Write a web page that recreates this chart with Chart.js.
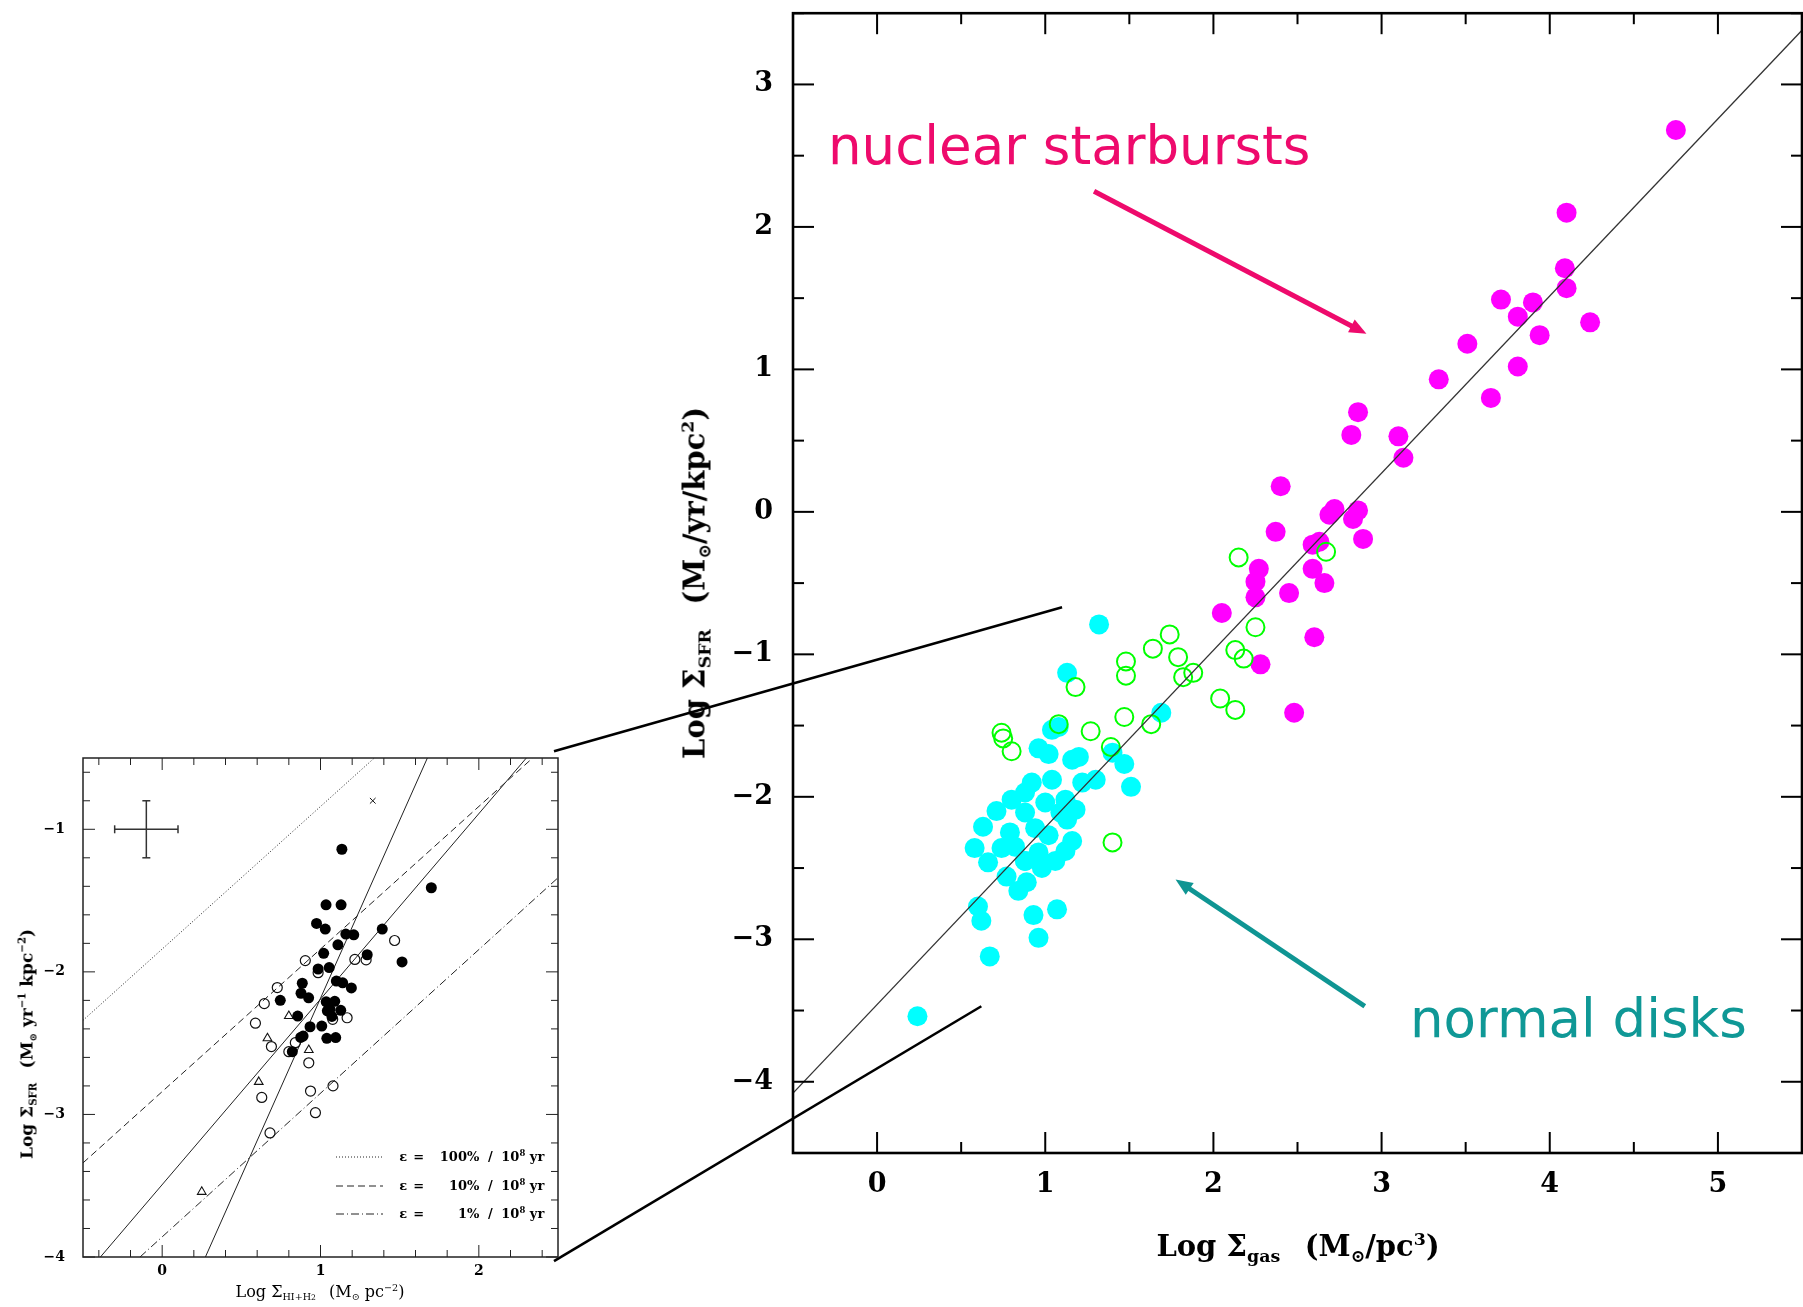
<!DOCTYPE html>
<html>
<head>
<meta charset="utf-8">
<script src="https://cdn.jsdelivr.net/npm/chart.js@4.4.1/dist/chart.umd.min.js"></script>
<style>
  html,body{margin:0;padding:0;background:#fff;}
  body{width:1803px;height:1307px;position:relative;overflow:hidden;}
  canvas{position:absolute;}
  .t{position:absolute;white-space:nowrap;line-height:1;}
  .serif{font-family:"DejaVu Serif","Liberation Serif",serif;color:#000;}
  .sub{font-size:60%;position:relative;top:0.35em;}
  .sup{font-size:60%;position:relative;top:-0.65em;}
  .ann{font-family:"DejaVu Sans",sans-serif;font-size:53px;}
  .leg{position:absolute;font-family:"DejaVu Serif",serif;font-weight:bold;font-size:13px;line-height:1;white-space:nowrap;}
  .leg span{display:inline-block;}
</style>
</head>
<body>
<canvas id="main" width="1803" height="1307" style="left:0;top:0;"></canvas>
<canvas id="inset" width="600" height="607" style="left:0;top:700px;"></canvas>

<div class="t ann" style="left:828px;top:119px;color:#ee0a6c;">nuclear starbursts</div>
<div class="t ann" style="left:1410px;top:992px;color:#0f9896;">normal disks</div>

<div class="t serif" style="left:1298px;top:1232px;transform:translateX(-50%);font-size:29px;font-weight:bold;">Log Σ<span class="sub">gas</span>&ensp;&nbsp;(M<span class="sub">⊙</span>/pc<span class="sup">3</span>)</div>
<div class="t serif" style="left:695px;top:583px;transform:translate(-50%,-50%) rotate(-90deg);font-size:29px;font-weight:bold;">Log Σ<span class="sub">SFR</span>&ensp;&nbsp;(M<span class="sub">⊙</span>/yr/kpc<span class="sup">2</span>)</div>

<div class="t serif" style="left:320px;top:1284px;transform:translateX(-50%);font-size:16px;">Log Σ<span class="sub">HI+H<span style="font-size:80%">2</span></span>&ensp;&nbsp;(M<span class="sub">⊙</span> pc<span class="sup">−2</span>)</div>
<div class="t serif" style="left:27px;top:1044px;transform:translate(-50%,-50%) rotate(-90deg);font-size:17px;font-weight:bold;">Log Σ<span class="sub">SFR</span>&ensp;&nbsp;(M<span class="sub">⊙</span> yr<span class="sup">−1</span> kpc<span class="sup">−2</span>)</div>

<div id="legend"></div>

<script>
// ---------------- MAIN PANEL DATA ----------------
const mainXTicks = [0, 1, 2, 3, 4, 5];
const mainYTicks = [-4, -3, -2, -1, 0, 1, 2, 3];

// nuclear starbursts (magenta, filled)
const sbGas = [4.75, 4.10, 4.09, 4.10, 3.71, 3.90, 3.81, 4.24, 3.94, 3.51, 3.81, 3.34, 3.65, 2.86, 2.82, 3.10, 3.13,
               2.72, 2.86, 2.40, 2.83, 2.37, 2.89, 2.59, 2.63, 2.59, 2.66, 2.27, 2.25, 2.25, 2.45, 2.05, 2.60, 2.28, 2.48, 2.69];
const sbSfr = [2.68, 2.10, 1.71, 1.57, 1.49, 1.47, 1.37, 1.33, 1.24, 1.18, 1.02, 0.93, 0.80, 0.70, 0.54, 0.53, 0.38,
               0.02, 0.01, 0.18, -0.05, -0.14, -0.19, -0.23, -0.21, -0.40, -0.50, -0.40, -0.49, -0.60, -0.57, -0.71, -0.88, -1.07, -1.41, -0.02];

// normal disks (cyan, filled)
const ndGas = [1.32, 1.13, 1.08, 1.69, 1.04, 0.96, 1.02, 1.16, 1.20, 1.40, 1.47, 1.51, 0.88, 0.92, 1.04, 1.30, 1.22,
               1.00, 1.09, 1.18, 0.88, 0.71, 0.63, 0.94, 0.88, 1.02, 0.82, 0.58, 1.16, 0.96, 0.66, 0.88, 1.06, 0.77,
               0.89, 0.60, 0.62, 0.93, 1.07, 0.96, 0.67, 0.24, 0.79, 1.12, 0.80, 0.74, 1.12, 0.98, 1.13, 0.84];
const ndSfr = [-0.79, -1.13, -1.51, -1.41, -1.53, -1.66, -1.70, -1.74, -1.72, -1.69, -1.77, -1.93, -1.97, -1.90, -1.88, -1.88, -1.90,
               -2.04, -2.11, -2.09, -2.11, -2.10, -2.21, -2.22, -2.45, -2.27, -2.35, -2.36, -2.31, -2.39, -2.46, -2.45, -2.45, -2.56,
               -2.60, -2.77, -2.87, -2.83, -2.79, -2.99, -3.12, -3.54, -2.25, -2.02, -2.02, -2.36, -2.38, -2.50, -2.16, -2.66];

// normal disks (green, open)
const ndOpenGas = [2.15, 2.67, 2.25, 1.74, 1.64, 2.13, 2.18, 1.79, 1.48, 1.48, 1.82, 1.88, 1.18, 2.04, 2.13, 1.47, 1.63,
                   1.08, 1.27, 1.39, 0.74, 0.75, 0.80, 1.40];
const ndOpenSfr = [-0.32, -0.28, -0.81, -0.86, -0.96, -0.97, -1.03, -1.02, -1.05, -1.15, -1.16, -1.13, -1.23, -1.31, -1.39, -1.44, -1.49,
                   -1.49, -1.54, -1.65, -1.55, -1.59, -1.68, -2.32];

// fitted relation (end points)
const fitGas = [-0.5, 5.5];
const fitSfr = [-4.08, 3.38];

// annotation arrows and zoom links, in main-panel data units
const sbArrowGas = [1.29, 2.91], sbArrowSfr = [2.25, 1.25];
const ndArrowGas = [2.90, 1.775], ndArrowSfr = [-3.47, -2.58];
const linkGas = [1.10, 0.62], linkSfr = [-0.67, -3.47];

// ---------------- INSET DATA ----------------
const insetXTicks = [0, 1, 2];
const insetYTicks = [-4, -3, -2, -1];
const inFilledX = [1.135, 1.70, 1.035, 1.13, 0.975, 1.03, 1.39, 1.16, 1.21, 1.11, 1.295, 1.515, 1.02, 1.055, 0.985, 0.885, 1.10, 1.14,
                   1.195, 0.877, 0.925, 0.746, 1.036, 1.09, 1.043, 1.128, 0.856, 1.06, 0.934, 1.008, 0.89, 0.875, 1.04, 1.096, 0.822, 1.072];
const inFilledY = [-1.14, -1.41, -1.53, -1.53, -1.66, -1.70, -1.70, -1.735, -1.74, -1.81, -1.88, -1.93, -1.87, -1.97, -1.98, -2.08, -2.065, -2.077,
                   -2.113, -2.15, -2.182, -2.20, -2.21, -2.207, -2.273, -2.27, -2.31, -2.263, -2.385, -2.38, -2.45, -2.46, -2.466, -2.461, -2.56, -2.313];
const inOpenX = [1.468, 1.217, 1.288, 0.904, 0.985, 0.727, 0.645, 0.589, 1.077, 1.168, 0.69, 0.841, 0.80, 0.926, 0.629, 0.937, 1.079, 0.968, 0.681];
const inOpenY = [-1.78, -1.913, -1.916, -1.921, -2.006, -2.11, -2.223, -2.36, -2.333, -2.322, -2.524, -2.497, -2.56, -2.638, -2.881, -2.836, -2.80, -2.988, -3.13];
const inTriX = [0.80, 0.665, 0.926, 0.61, 0.25];
const inTriY = [-2.31, -2.466, -2.548, -2.772, -3.543];
const inCrossX = [1.33];
const inCrossY = [-0.80];

// reference lines (end points)
const eff100X = [-0.5, 1.34],  eff100Y = [-2.34, -0.5];
const eff10X  = [-0.5, 2.34],  eff10Y  = [-3.34, -0.5];
const eff1X   = [-0.14, 2.5],  eff1Y   = [-4.0, -1.34];
const steepX  = [0.273, 1.675], steepY = [-4.0, -0.5];
const fitInX  = [-0.39, 2.30], fitInY  = [-4.0, -0.5];

// typical error bars
const errHX = [-0.3, 0.1], errHY = [-1.0, -1.0];
const errVX = [-0.1, -0.1], errVY = [-1.2, -0.8];

// legend labels and their rows (inset y units)
const legendPct = ['100%', '10%', '1%'];
const legendRowY = [-3.30, -3.50, -3.70];
const legendDash = [[1, 2], [7, 4], [8, 3, 1, 3]];

// ---------------- HELPERS ----------------
const pts = (xs, ys) => xs.map((x, i) => ({x: x, y: ys[i]}));
const minusFmt = v => (v < 0 ? '\u2212' + Math.abs(v) : String(v));

function makeTicks(o) {
  return {
    id: 'inwardTicks',
    afterDatasetsDraw(chart) {
      const ctx = chart.ctx, a = chart.chartArea;
      const xs = chart.scales.x, ys = chart.scales.y;
      ctx.save();
      ctx.fillStyle = o.color;
      const w = o.tickWidth, hw = w / 2;
      const stepsOf = (scale) => {
        const out = [];
        const i0 = Math.ceil(scale.min / o.minor - 1e-6), i1 = Math.floor(scale.max / o.minor + 1e-6);
        for (let i = i0; i <= i1; i++) out.push(i * o.minor);
        return out;
      };
      const isMajor = v => Math.abs(v - Math.round(v)) < 1e-6;
      stepsOf(xs).forEach(v => {
        const len = isMajor(v) ? o.majorLen : o.minorLen;
        const p = xs.getPixelForValue(v);
        ctx.fillRect(p - hw, a.bottom - len, w, len);
        ctx.fillRect(p - hw, a.top, w, len);
      });
      stepsOf(ys).forEach(v => {
        const len = isMajor(v) ? o.majorLen : o.minorLen;
        const p = ys.getPixelForValue(v);
        ctx.fillRect(a.left, p - hw, len, w);
        ctx.fillRect(a.right - len, p - hw, len, w);
      });
      ctx.strokeStyle = o.color;
      ctx.lineWidth = o.frameWidth;
      ctx.strokeRect(a.left, a.top, a.right - a.left, a.bottom - a.top);
      ctx.restore();
    }
  };
}

// ---------------- INSET CHART ----------------
const insetTop = 700;
const insetFont = {family: '"DejaVu Serif", serif', size: 14, weight: 'bold'};
const lineDs = (xs, ys, dash, w) => ({
  data: pts(xs, ys), showLine: true, pointRadius: 0, borderColor: '#222', borderWidth: w || 1,
  borderDash: dash, backgroundColor: 'transparent', order: 5
});

const inset = new Chart(document.getElementById('inset'), {
  type: 'scatter',
  data: {
    datasets: [
      Object.assign(lineDs(eff100X, eff100Y, legendDash[0]), {label: 'eps100'}),
      Object.assign(lineDs(eff10X, eff10Y, legendDash[1]), {label: 'eps10'}),
      Object.assign(lineDs(eff1X, eff1Y, legendDash[2]), {label: 'eps1'}),
      Object.assign(lineDs(steepX, steepY, []), {label: 'steep'}),
      Object.assign(lineDs(fitInX, fitInY, []), {label: 'fit'}),
      {label: 'errH', data: pts(errHX, errHY), showLine: true, borderColor: '#333', borderWidth: 1.5,
       pointStyle: 'line', pointRotation: 90, pointRadius: 4, pointBorderWidth: 1.5, pointBorderColor: '#333', order: 4},
      {label: 'errV', data: pts(errVX, errVY), showLine: true, borderColor: '#333', borderWidth: 1.5,
       pointStyle: 'line', pointRotation: 0, pointRadius: 4, pointBorderWidth: 1.5, pointBorderColor: '#333', order: 4},
      {label: 'open', data: pts(inOpenX, inOpenY), pointStyle: 'circle', pointRadius: 5,
       backgroundColor: 'rgba(255,255,255,0)', borderColor: '#111', pointBorderWidth: 1.2, order: 3},
      {label: 'tri', data: pts(inTriX, inTriY), pointStyle: 'triangle', pointRadius: 5,
       backgroundColor: 'rgba(255,255,255,0)', borderColor: '#111', pointBorderWidth: 1.1, order: 2},
      {label: 'cross', data: pts(inCrossX, inCrossY), pointStyle: 'crossRot', pointRadius: 4,
       borderColor: '#111', pointBorderWidth: 1, order: 2},
      {label: 'filled', data: pts(inFilledX, inFilledY), pointStyle: 'circle', pointRadius: 5.5,
       backgroundColor: '#000', borderColor: '#000', pointBorderWidth: 0, order: 1}
    ]
  },
  options: {
    responsive: false, animation: false, devicePixelRatio: 1, events: [],
    layout: {padding: {left: 0, top: 58, right: 42, bottom: 0}},
    plugins: {legend: {display: false}, tooltip: {enabled: false}},
    scales: {
      x: {type: 'linear', min: -0.5, max: 2.5,
        afterFit(s) { s.height = 50; },
        afterBuildTicks(s) { s.ticks = insetXTicks.map(v => ({value: v})); },
        ticks: {color: '#000', font: insetFont, padding: 6, callback: minusFmt, autoSkip: false, maxRotation: 0},
        grid: {display: false, drawTicks: false}, border: {display: false}},
      y: {type: 'linear', min: -4, max: -0.5,
        afterFit(s) { s.width = 83; },
        afterBuildTicks(s) { s.ticks = insetYTicks.map(v => ({value: v})); },
        ticks: {color: '#000', font: insetFont, padding: 18, callback: minusFmt, autoSkip: false},
        grid: {display: false, drawTicks: false}, border: {display: false}}
    }
  },
  plugins: [makeTicks({color: '#222', tickWidth: 1, frameWidth: 1.5, minor: 0.2, majorLen: 12, minorLen: 7})]
});

// inset legend (HTML text + svg line samples), placed with the inset's scales
(function buildLegend() {
  const host = document.getElementById('legend');
  const lx = inset.scales.x.getPixelForValue(1.10);
  legendPct.forEach((pct, i) => {
    const yc = insetTop + inset.scales.y.getPixelForValue(legendRowY[i]);
    const svg = document.createElementNS('http://www.w3.org/2000/svg', 'svg');
    svg.setAttribute('width', 48); svg.setAttribute('height', 6);
    svg.style.position = 'absolute'; svg.style.left = lx + 'px'; svg.style.top = (yc - 3) + 'px';
    const ln = document.createElementNS('http://www.w3.org/2000/svg', 'line');
    ln.setAttribute('x1', 0); ln.setAttribute('x2', 47); ln.setAttribute('y1', 3); ln.setAttribute('y2', 3);
    ln.setAttribute('stroke', '#222'); ln.setAttribute('stroke-width', 1);
    ln.setAttribute('stroke-dasharray', legendDash[i].join(' '));
    svg.appendChild(ln); host.appendChild(svg);
    const d = document.createElement('div');
    d.className = 'leg';
    d.style.left = (lx + 63) + 'px'; d.style.top = (yc - 7) + 'px';
    d.innerHTML = '<span style="width:14px">ε</span><span style="width:24px">=</span>' +
      '<span style="width:42px;text-align:right">' + pct + '</span><span style="width:22px;text-align:center">/</span>' +
      '<span>10<span style="font-size:65%;position:relative;top:-0.6em">8</span>&nbsp;yr</span>';
    host.appendChild(d);
  });
})();

// ---------------- MAIN CHART ----------------
let mainOffX = 0, mainOffY = 0;   // page position of the main canvas

function arrow(ctx, x1, y1, x2, y2, color, w, head) {
  const ang = Math.atan2(y2 - y1, x2 - x1), c = Math.cos(ang), s = Math.sin(ang);
  ctx.strokeStyle = color; ctx.fillStyle = color; ctx.lineWidth = w; ctx.lineCap = 'butt';
  ctx.beginPath(); ctx.moveTo(x1, y1); ctx.lineTo(x2 - head * 0.8 * c, y2 - head * 0.8 * s); ctx.stroke();
  ctx.beginPath(); ctx.moveTo(x2, y2);
  ctx.lineTo(x2 - head * c + head * 0.42 * s, y2 - head * s - head * 0.42 * c);
  ctx.lineTo(x2 - head * c - head * 0.42 * s, y2 - head * s + head * 0.42 * c);
  ctx.closePath(); ctx.fill();
}

const annotate = {
  id: 'annotate',
  afterDraw(chart) {
    const {ctx, scales: {x, y}} = chart;
    ctx.save();
    // zoom links from the inset corners to the main panel
    const ia = inset.chartArea;
    const starts = [[ia.right - 4, insetTop + ia.top - 7], [ia.right - 4, insetTop + ia.bottom + 4]];
    ctx.strokeStyle = '#000'; ctx.lineWidth = 2.6;
    starts.forEach((p, i) => {
      ctx.beginPath(); ctx.moveTo(p[0] - mainOffX, p[1] - mainOffY);
      ctx.lineTo(x.getPixelForValue(linkGas[i]), y.getPixelForValue(linkSfr[i])); ctx.stroke();
    });
    arrow(ctx, x.getPixelForValue(sbArrowGas[0]), y.getPixelForValue(sbArrowSfr[0]),
               x.getPixelForValue(sbArrowGas[1]), y.getPixelForValue(sbArrowSfr[1]), '#ee0a6c', 5, 17);
    arrow(ctx, x.getPixelForValue(ndArrowGas[0]), y.getPixelForValue(ndArrowSfr[0]),
               x.getPixelForValue(ndArrowGas[1]), y.getPixelForValue(ndArrowSfr[1]), '#0f9593', 5, 17);
    ctx.restore();
  }
};

const mainFont = {family: '"DejaVu Serif", serif', size: 27, weight: 'bold'};
const X_AXIS_H = 154, Y_AXIS_W = 793;

function mainConfig() {
  return {
    type: 'scatter',
    data: {
      datasets: [
        {label: 'fit', data: pts(fitGas, fitSfr), showLine: true, pointRadius: 0, borderColor: '#333',
         borderWidth: 1.3, backgroundColor: 'transparent', order: 0},
        {label: 'normal disks (open)', data: pts(ndOpenGas, ndOpenSfr), pointStyle: 'circle', pointRadius: 9,
         backgroundColor: 'rgba(255,255,255,0)', borderColor: '#00ff00', pointBorderWidth: 2, order: 1},
        {label: 'nuclear starbursts', data: pts(sbGas, sbSfr), pointStyle: 'circle', pointRadius: 10,
         backgroundColor: '#ff00ff', borderColor: '#ff00ff', pointBorderWidth: 0, order: 2},
        {label: 'normal disks', data: pts(ndGas, ndSfr), pointStyle: 'circle', pointRadius: 10,
         backgroundColor: '#00ffff', borderColor: '#00ffff', pointBorderWidth: 0, order: 3}
      ]
    },
    options: {
      responsive: false, animation: false, devicePixelRatio: 1, events: [],
      layout: {padding: 0},
      plugins: {legend: {display: false}, tooltip: {enabled: false}},
      scales: {
        x: {type: 'linear', min: -0.5, max: 5.5,
          afterFit(s) { s.height = X_AXIS_H; },
          afterBuildTicks(s) { s.ticks = mainXTicks.map(v => ({value: v})); },
          ticks: {color: '#000', font: mainFont, padding: 16, callback: minusFmt, autoSkip: false, maxRotation: 0},
          grid: {display: false, drawTicks: false}, border: {display: false}},
        y: {type: 'linear', min: -4.5, max: 3.5,
          afterFit(s) { s.width = Y_AXIS_W; },
          afterBuildTicks(s) { s.ticks = mainYTicks.map(v => ({value: v})); },
          ticks: {color: '#000', font: mainFont, padding: 20, callback: minusFmt, autoSkip: false},
          grid: {display: false, drawTicks: false}, border: {display: false}}
      }
    },
    plugins: [makeTicks({color: '#000', tickWidth: 2, frameWidth: 2.6, minor: 0.5, majorLen: 21, minorLen: 11}), annotate]
  };
}

// place the plot frame of the main panel at its position on the page
const target = {left: 793, top: 13, right: 1802, bottom: 1153};
const mainCanvas = document.getElementById('main');
let probe = new Chart(mainCanvas, mainConfig());
const pa = probe.chartArea;
const T = pa.top, L = pa.left, R = mainCanvas.width - pa.right;
probe.destroy();
mainOffY = target.top - T;
mainOffX = target.left - L;
const H = Math.round(target.bottom + X_AXIS_H - mainOffY);
const W = Math.round(target.right + R - mainOffX);
mainCanvas.width = W; mainCanvas.height = H;
mainCanvas.style.width = W + 'px'; mainCanvas.style.height = H + 'px';
mainCanvas.style.left = mainOffX + 'px'; mainCanvas.style.top = mainOffY + 'px';
const mainChart = new Chart(mainCanvas, mainConfig());
</script>
</body>
</html>
